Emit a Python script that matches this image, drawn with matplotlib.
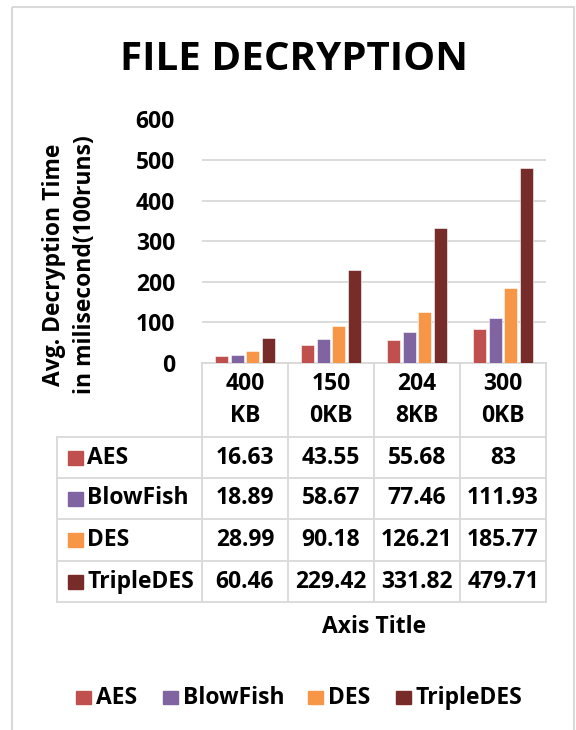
import numpy as np
import matplotlib as mpl
from matplotlib import pyplot as plt
from matplotlib.patches import Rectangle

mpl.rcParams['font.family'] = ['Open Sans', 'DejaVu Sans']
mpl.rcParams['font.weight'] = 'bold'

categories = ['400\nKB', '150\n0KB', '204\n8KB', '300\n0KB']
series = ['AES', 'BlowFish', 'DES', 'TripleDES']
aes = [16.63, 43.55, 55.68, 83]
blowfish = [18.89, 58.67, 77.46, 111.93]
des = [28.99, 90.18, 126.21, 185.77]
tripledes = [60.46, 229.42, 331.82, 479.71]
values = [aes, blowfish, des, tripledes]
colors = ['#C0504D', '#8064A2', '#F79646', '#772C2A']
yticks = [0, 100, 200, 300, 400, 500, 600]

W, H = 576, 730
grid_c = '#D9D9D9'
fs = 16.5

fig = plt.figure(figsize=(W / 100, H / 100), dpi=100)

# plot area in pixels
x0, x1 = 202, 546
y_top, y_bot = 119.5, 363
ax = fig.add_axes([x0 / W, 1 - y_bot / H, (x1 - x0) / W, (y_bot - y_top) / H])
xs = np.arange(len(categories))
for i, (vals, c) in enumerate(zip(values, colors)):
    ax.bar(xs + (i - 1.5) * 0.183, vals, width=0.151, color=c, edgecolor='white', linewidth=0.4, zorder=3)
ax.set_xlim(-0.5, len(categories) - 0.5)
ax.set_ylim(0, 600)
ax.set_yticks(yticks)
ax.set_yticklabels([str(t) for t in yticks], fontsize=fs, fontweight='bold')
ax.tick_params(axis='y', length=0, pad=27 * 0.72)
ax.set_xticks([])
ax.grid(axis='y', color=grid_c, linewidth=1.3, zorder=0)
for s in ['top', 'left', 'right']:
    ax.spines[s].set_visible(False)
ax.spines['bottom'].set_color(grid_c)
ax.spines['bottom'].set_linewidth(1.3)

# overlay in pixel coordinates for table, titles, legend, frame
ov = fig.add_axes([0, 0, 1, 1], zorder=-1)
ov.set_xlim(0, W)
ov.set_ylim(H, 0)
ov.axis('off')

ov.add_patch(Rectangle((12, 7), 562, 740, fill=False, edgecolor=grid_c, linewidth=1.5))

ov.text(294, 59, 'FILE DECRYPTION', ha='center', va='center', fontsize=29, fontweight='bold')
ov.text(54, 265, 'Avg. Decryption Time', rotation=90, ha='center', va='center', fontsize=fs)
ov.text(85, 265, 'in milisecond(100runs)', rotation=90, ha='center', va='center', fontsize=fs)

# data table
col_w = (x1 - x0) / len(categories)
key_x = 57
row_edges = [363, 437, 478, 519, 561, 602]
lw = 1.3
for j in range(len(categories) + 1):
    xx = x0 + j * col_w
    ov.plot([xx, xx], [row_edges[0], row_edges[-1]], color=grid_c, lw=lw)
ov.plot([key_x, key_x], [row_edges[1], row_edges[-1]], color=grid_c, lw=lw)
for r in row_edges[1:]:
    ov.plot([key_x, x1], [r, r], color=grid_c, lw=lw)

for j, cat in enumerate(categories):
    cx = x0 + (j + 0.5) * col_w
    top, bottom = cat.split('\n')
    ov.text(cx, 384, top, ha='center', va='center', fontsize=fs)
    ov.text(cx, 416, bottom, ha='center', va='center', fontsize=fs)

for i, name in enumerate(series):
    cy = (row_edges[i + 1] + row_edges[i + 2]) / 2
    ov.add_patch(Rectangle((68, cy - 7), 15, 14, color=colors[i]))
    ov.text(87, cy, name, ha='left', va='center', fontsize=fs)
    for j, v in enumerate(values[i]):
        cx = x0 + (j + 0.5) * col_w
        ov.text(cx, cy, f'{v:g}', ha='center', va='center', fontsize=fs)

ov.text(374, 627, 'Axis Title', ha='center', va='center', fontsize=fs)

# legend
leg_x = [76, 163, 308, 396]
for i, name in enumerate(series):
    ov.add_patch(Rectangle((leg_x[i], 691), 15, 13, color=colors[i]))
    ov.text(leg_x[i] + 20, 697.5, name, ha='left', va='center', fontsize=fs)

fig.savefig('out.png', dpi=100)
